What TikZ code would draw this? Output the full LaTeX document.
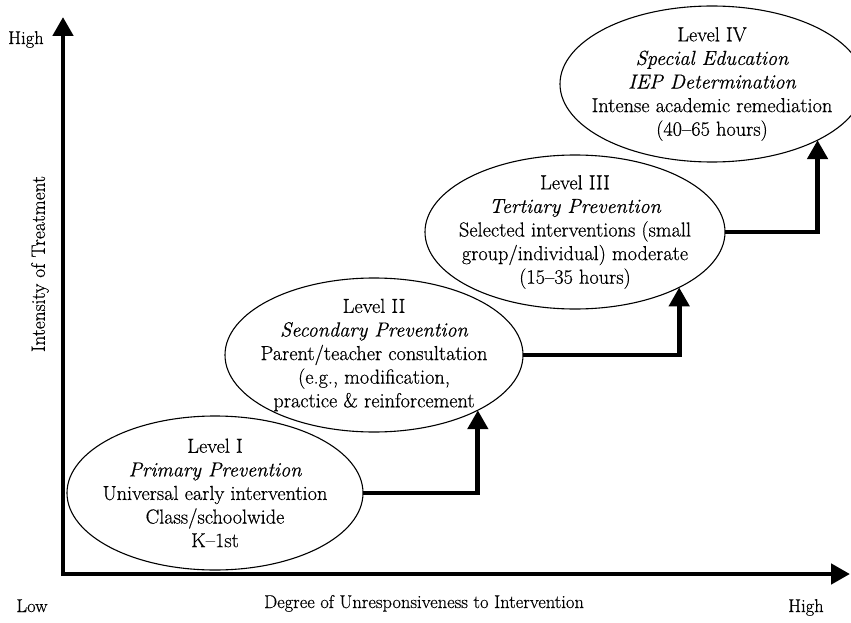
\documentclass[tikz,border=0pt]{standalone}
\usepackage{fontspec}
\setmainfont{Latin Modern Roman}[FakeBold=0.5]
\usetikzlibrary{shapes.geometric,arrows.meta}
\begin{document}
\begin{tikzpicture}[x=1pt,y=-1pt,
  lvl/.style={draw, ellipse, line width=1.1pt, inner sep=0pt, outer sep=0pt},
  lvltxt/.style={align=center, inner sep=0pt, font=\fontsize{20.3pt}{23.6pt}\selectfont},
  axlbl/.style={inner sep=0pt, font=\fontsize{18.5pt}{20pt}\selectfont},
  conn/.style={line width=4.8pt, line join=miter, -{Triangle[length=19pt,width=20pt]}},
  axis/.style={line width=4.8pt, line join=miter, {Triangle[length=19pt,width=20pt]}-{Triangle[length=19pt,width=20pt]}}]
\useasboundingbox[fill=white] (0,0) rectangle (851,623);
\clip (0,0) rectangle (851,623);

% axes
\coordinate (ytip) at (63,17);
\coordinate (xtip) at (850,574);
\draw[axis] (ytip) |- (xtip);

% level ellipses
\node[lvl, minimum width=296pt, minimum height=154pt] (e1) at (215,493) {};
\node[lvl, minimum width=298pt, minimum height=154pt] (e2) at (374,355) {};
\node[lvl, minimum width=300pt, minimum height=154pt] (e3) at (575,232) {};
\node[lvl, minimum width=304pt, minimum height=156pt] (e4) at (712,84) {};

\node[lvltxt] (t1) at (e1.center) {Level I\\\itshape Primary Prevention\\Universal early intervention\\Class/schoolwide\\K--1st};
\node[lvltxt] (t2) at (e2.center) {Level II\\\itshape Secondary Prevention\\Parent/teacher consultation\\(e.g., modification,\\practice \& reinforcement};
\node[lvltxt] (t3) at (e3.center) {Level III\\\itshape Tertiary Prevention\\Selected interventions (small\\group/individual) moderate\\(15--35 hours)};
\node[lvltxt] (t4) at (e4.center) {Level IV\\\itshape Special Education\\\itshape IEP Determination\\Intense academic remediation\\(40--65 hours)};

% connectors
\draw[conn] (e1.east) -| (e2.-28);
\draw[conn] (e2.east) -| (e3.-28);
\draw[conn] (e3.east) -| (e4.-28);

% axis labels
\node[axlbl, anchor=base] (hiy) at (26,44) {High};
\node[axlbl, anchor=base] (lox) at (32,612) {Low};
\node[axlbl, anchor=base] (hix) at (806,612) {High};
\node[axlbl, anchor=base] (xlab) at (424,608) {Degree of Unresponsiveness to Intervention};
\node[axlbl, rotate=90, font=\fontsize{19.5pt}{20pt}\selectfont] (ylab) at (40,264) {Intensity of Treatment};
\end{tikzpicture}
\end{document}
